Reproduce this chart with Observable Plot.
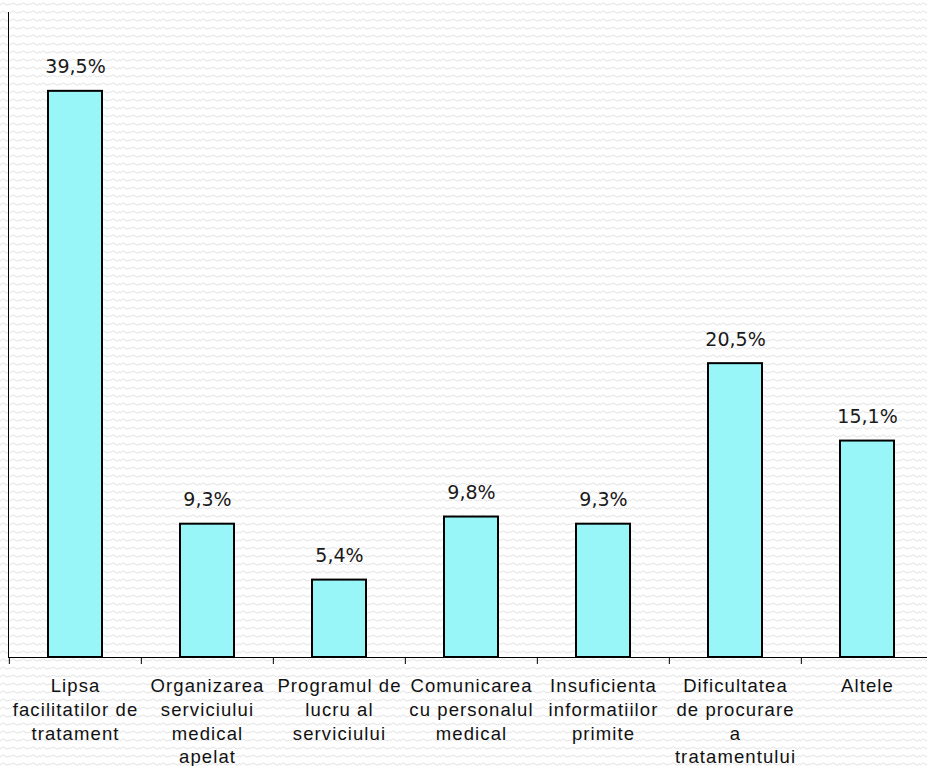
<!DOCTYPE html>
<html>
<head>
<meta charset="utf-8">
<script src="https://cdn.jsdelivr.net/npm/d3@7"></script>
<script src="https://cdn.jsdelivr.net/npm/@observablehq/plot@0.6"></script>
<style>
  html, body { margin: 0; padding: 0; background: #fff; }
  #chart { width: 927px; height: 766px; overflow: hidden; }
  .catlabel text { letter-spacing: 1.1px; }
</style>
</head>
<body>
<div id="chart"></div>
<script>
const categories = [
  "Lipsa\nfacilitatilor de\ntratament",
  "Organizarea\nserviciului\nmedical\napelat",
  "Programul de\nlucru al\nserviciului",
  "Comunicarea\ncu personalul\nmedical",
  "Insuficienta\ninformatiilor\nprimite",
  "Dificultatea\nde procurare\na\ntratamentului",
  "Altele"
];
const values = [39.5, 9.3, 5.4, 9.8, 9.3, 20.5, 15.1];
const valueLabels = ["39,5%", "9,3%", "5,4%", "9,8%", "9,3%", "20,5%", "15,1%"];

const data = categories.map((c, i) => ({cat: c, value: values[i], label: valueLabels[i]}));

const W = 927, H = 766;
const mL = 8, mR = -7, mT = 12, mB = 109;
const step = (W - mR - mL) / categories.length;

const pattern = "url(\"data:image/svg+xml;utf8," + encodeURIComponent(
  "<svg xmlns='http://www.w3.org/2000/svg' width='10' height='8'><path d='M0 5.5 Q2.5 1.5 5 4 T10 3.5' fill='none' stroke='#e0e0e0' stroke-width='1'/></svg>"
) + "\")";

const chart = Plot.plot({
  width: W,
  height: H,
  marginLeft: mL,
  marginRight: mR,
  marginTop: mT,
  marginBottom: mB,
  style: {background: "#fff " + pattern, overflow: "visible"},
  x: {domain: categories, paddingInner: 0.59, paddingOuter: 0.295, axis: null},
  y: {domain: [0, 45], axis: null},
  marks: [
    Plot.barY(data, {x: "cat", y: "value", fill: "#98F5F8", stroke: "#000", strokeWidth: 2}),
    Plot.frame({anchor: "left", stroke: "#000"}),
    Plot.frame({anchor: "bottom", stroke: "#000"}),
    Plot.axisX({anchor: "bottom", tickSize: 7, tickFormat: () => "", label: null, dx: -step / 2, stroke: "#000"}),
    Plot.text(data, {x: "cat", y: "value", text: "label", dy: -18, lineAnchor: "bottom",
      fontSize: 19, fontFamily: "DejaVu Sans", fill: "#1a1a1a"}),
    Plot.text(data, {x: "cat", y: () => 0, text: "cat", dy: 18, lineAnchor: "top", lineHeight: 1.28,
      fontSize: 18.5, fontFamily: "Liberation Sans, Arial", fill: "#111", className: "catlabel"})
  ]
});
document.getElementById("chart").appendChild(chart);
</script>
</body>
</html>
